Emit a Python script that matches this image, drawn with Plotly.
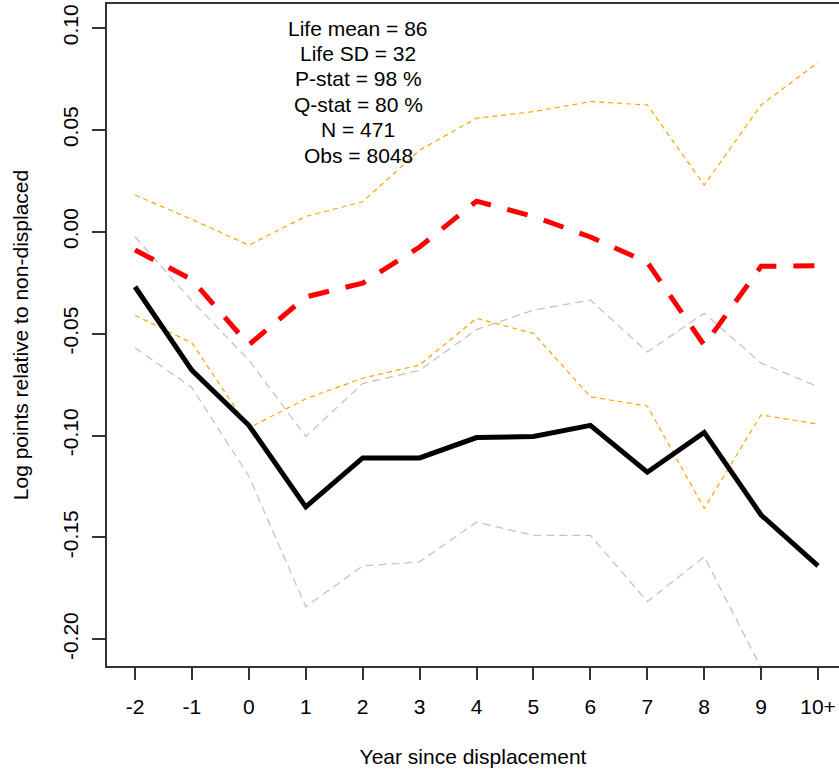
import plotly.graph_objects as go

# Event-study style estimates by year since displacement
years = [-2, -1, 0, 1, 2, 3, 4, 5, 6, 7, 8, 9, 10]
year_labels = ["-2", "-1", "0", "1", "2", "3", "4", "5", "6", "7", "8", "9", "10+"]

# Main estimate (solid black) with its confidence band (grey dashed)
estimate = [-0.027, -0.068, -0.095, -0.135, -0.111, -0.111, -0.101, -0.1005,
            -0.095, -0.118, -0.0985, -0.139, -0.164]
est_upper = [-0.0025, -0.034, -0.063, -0.1005, -0.0745, -0.068, -0.048, -0.0385,
             -0.0335, -0.059, -0.040, -0.0645, -0.076]
est_lower = [-0.057, -0.0765, -0.120, -0.184, -0.164, -0.162, -0.1425, -0.149,
             -0.149, -0.1815, -0.1595, -0.214, -0.245]

# Comparison estimate (red dashed) with its confidence band (orange dashed)
comparison = [-0.009, -0.0235, -0.0555, -0.032, -0.0252, -0.0075, 0.015, 0.0075,
              -0.0026, -0.015, -0.0557, -0.017, -0.0167]
cmp_upper = [0.018, 0.006, -0.0066, 0.0075, 0.0147, 0.040, 0.0557, 0.0589,
             0.0638, 0.0622, 0.0229, 0.0622, 0.083]
cmp_lower = [-0.041, -0.0546, -0.0963, -0.082, -0.0719, -0.0654, -0.0425, -0.0499,
             -0.081, -0.0855, -0.1357, -0.0899, -0.0944]

stats_lines = ["Life mean = 86", "Life SD = 32", "P-stat = 98 %",
               "Q-stat = 80 %", "N = 471", "Obs = 8048"]

FONT = "Liberation Sans, Arial, sans-serif"
GREY = "#c4c4c4"
ORANGE = "#ffa500"

fig = go.Figure()

for band in (est_upper, est_lower):
    fig.add_trace(go.Scatter(x=years, y=band, mode="lines",
                             line=dict(color=GREY, width=1.3, dash="8px,5px")))
for band in (cmp_upper, cmp_lower):
    fig.add_trace(go.Scatter(x=years, y=band, mode="lines",
                             line=dict(color=ORANGE, width=1.2, dash="5px,4px")))

fig.add_trace(go.Scatter(x=years, y=estimate, mode="lines",
                         line=dict(color="black", width=5)))
fig.add_trace(go.Scatter(x=years, y=comparison, mode="lines",
                         line=dict(color="#ff0000", width=5, dash="21px,17px")))

# Summary statistics stacked near the top of the panel, one line each
PLOT_TOP, PLOT_H, LINE_STEP = 4, 662, 25.4
for i, line in enumerate(stats_lines):
    y_px = 28 + i * LINE_STEP
    fig.add_annotation(x=1.92, y=(PLOT_TOP + PLOT_H - y_px) / PLOT_H,
                       xref="x", yref="paper", text=line, showarrow=False,
                       xanchor="center", yanchor="middle",
                       font=dict(family=FONT, size=21, color="black"))

fig.update_layout(
    width=839, height=771,
    margin=dict(l=107, r=0, t=4, b=105),
    paper_bgcolor="white", plot_bgcolor="white",
    showlegend=False,
    font=dict(family=FONT, size=21, color="black"),
    xaxis=dict(
        range=[-2.492, 10.368],
        tickvals=years, ticktext=year_labels,
        showgrid=False, zeroline=False,
        showline=True, mirror=True, linecolor="#333333", linewidth=1.5,
        ticks="outside", ticklen=12, tickwidth=1.5, tickcolor="#333333",
        ticklabelstandoff=9,
        title=dict(text="Year since displacement", standoff=32,
                   font=dict(family=FONT, size=21)),
    ),
    yaxis=dict(
        range=[-0.2131, 0.11173],
        tickvals=[-0.20, -0.15, -0.10, -0.05, 0.00, 0.05, 0.10],
        ticktext=["-0.20", "-0.15", "-0.10", "-0.05", "0.00", "0.05", "0.10"],
        tickangle=-90,
        showgrid=False, zeroline=False,
        showline=True, mirror=False, linecolor="#333333", linewidth=1.5,
        ticks="outside", ticklen=13, tickwidth=1.5, tickcolor="#333333",
        ticklabelstandoff=6,
        title=dict(text="Log points relative to non-displaced", standoff=24,
                   font=dict(family=FONT, size=21)),
    ),
)

fig.write_html("out.html")
